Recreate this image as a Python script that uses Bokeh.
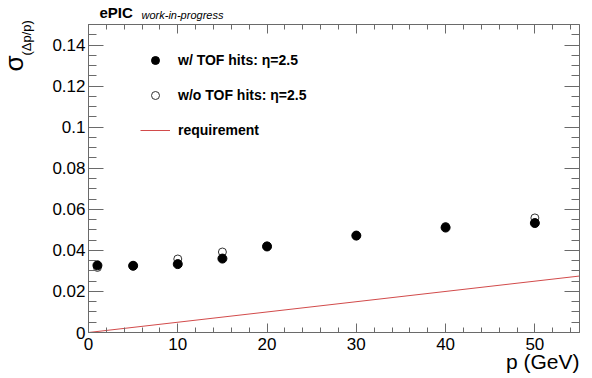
from bokeh.plotting import figure
from bokeh.models import (Label, LinearAxis, FixedTicker, CustomJSTickFormatter,
                          Range1d, Legend, LegendItem)
from bokeh.embed import file_html
from bokeh.resources import INLINE
import math

# ---------------- data ----------------
p_values = [1, 5, 10, 15, 20, 30, 40, 50]
sigma_with_tof = [0.0327, 0.0325, 0.0333, 0.0360, 0.0419, 0.0472, 0.0511, 0.0533]
sigma_without_tof = [0.0317, 0.0325, 0.0358, 0.0392, 0.0421, 0.0471, 0.0516, 0.0558]
req_p = [0, 55]
req_sigma = [0.0, 0.0275]

x_major = [0, 10, 20, 30, 40, 50]
x_minor = [v for v in range(0, 56, 2)]
y_major = [0, 0.02, 0.04, 0.06, 0.08, 0.10, 0.12, 0.14]
y_minor = [round(i * 0.005, 3) for i in range(0, 31)]

label_with = "w/ TOF hits: η=2.5"
label_without = "w/o TOF hits: η=2.5"
label_req = "requirement"

# ---------------- geometry ----------------
W, H = 592, 378
FL, FR, FT, FB = 88, 579, 24, 332          # axes box in canvas pixels
XMIN, XMAX, YMIN, YMAX = 0, 55, 0, 0.15    # axes box in data units
FONT = "Liberation Sans"
AX = "#6a6a6a"

# the plot frame covers the whole canvas; the axes are drawn at fixed locations
kx = (XMAX - XMIN) / (FR - FL)
ky = (YMAX - YMIN) / (FB - FT)
x_range = Range1d(XMIN - FL * kx, XMAX + (W - FR) * kx)
y_range = Range1d(YMIN - (H - FB) * ky, YMAX + FT * ky)

p = figure(width=W, height=H, output_backend="svg", toolbar_location=None,
           x_range=x_range, y_range=y_range,
           min_border=0, x_axis_location=None, y_axis_location=None)
p.grid.visible = False
p.outline_line_color = None
p.background_fill_color = "white"
p.border_fill_color = "white"

xt = FixedTicker(ticks=x_major, minor_ticks=x_minor)
yt = FixedTicker(ticks=y_major, minor_ticks=y_minor)
yfmt = CustomJSTickFormatter(code="return tick == 0 ? '0' : (Math.round(tick*100)/100).toString();")


def make_axis(side, ticker, loc, bounds, major, minor, show_labels, formatter=None):
    kw = {} if formatter is None else {"formatter": formatter}
    ax = LinearAxis(ticker=ticker, fixed_location=loc, bounds=bounds, **kw)
    ax.axis_line_color = AX
    ax.major_tick_line_color = AX
    ax.minor_tick_line_color = AX
    ax.major_tick_in = major
    ax.major_tick_out = 0
    ax.minor_tick_in = minor
    ax.minor_tick_out = 0
    ax.major_label_text_font = FONT
    if show_labels:
        ax.major_label_text_color = "black"
        ax.major_label_text_font_size = "17px"
        ax.major_label_standoff = 4
    else:
        ax.major_label_text_color = None
        ax.major_label_text_alpha = 0
        ax.major_label_text_font_size = "0px"
        ax.major_label_standoff = 0
    p.add_layout(ax, side)
    return ax


xb = make_axis("below", xt, YMIN, (XMIN, XMAX), 9, 5, True)
xb.major_label_standoff = 5
make_axis("above", xt, YMAX, (XMIN, XMAX), 9, 5, False)
yl = make_axis("left", yt, XMIN, (YMIN, YMAX), 15, 8, True, yfmt)
yl.major_label_standoff = 3
make_axis("right", yt, XMAX, (YMIN, YMAX), 15, 8, False, yfmt)

# ---------------- data glyphs ----------------
r_req = p.line(req_p, req_sigma, line_color="#d24b4b", line_width=1)
r_open = p.scatter(p_values, sigma_without_tof, marker="circle", size=8,
                   fill_color="white", fill_alpha=0, line_color="#333333", line_width=1)
r_fill = p.scatter(p_values, sigma_with_tof, marker="circle", size=9,
                   fill_color="black", line_color="black")

legend = Legend(items=[LegendItem(label=label_with, renderers=[r_fill]),
                       LegendItem(label=label_without, renderers=[r_open]),
                       LegendItem(label=label_req, renderers=[r_req])],
                location=(140, H - 140), glyph_width=30, glyph_height=20,
                label_height=20, spacing=15, label_standoff=8, padding=0, margin=0,
                border_line_color=None, background_fill_alpha=0,
                label_text_font=FONT, label_text_font_style="bold",
                label_text_font_size="14px", label_text_color="black")
p.add_layout(legend, "center")


# ---------------- texts ----------------
def lab(px, py, text, **kw):
    p.add_layout(Label(x=px, y=H - py, x_units="screen", y_units="screen",
                       text=text, text_font=FONT, text_color="black", **kw))


lab(99, 20, "ePIC", text_font_style="bold", text_font_size="15px")
lab(141, 20, "work-in-progress", text_font_style="italic", text_font_size="11px")
lab(579, 372, "p (GeV)", text_font_size="21px", text_align="right")
lab(28, 71, "σ", angle=math.pi / 2, text_font_size="26px", text_align="left")
lab(33, 55, "(Δp/p)", angle=math.pi / 2, text_font_size="13px", text_align="left")

open("out.html", "w").write(file_html(p, INLINE))
